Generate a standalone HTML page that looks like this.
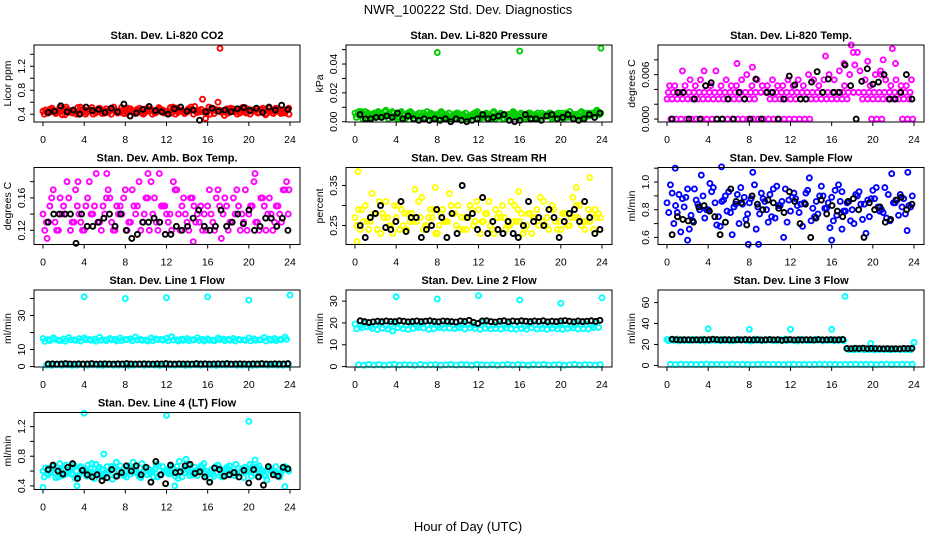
<!DOCTYPE html>
<html><head><meta charset="utf-8">
<style>
html,body{margin:0;padding:0;background:#fff;}
svg{display:block;font-family:"Liberation Sans",Arial,sans-serif;}
</style></head>
<body>
<svg id="chart" width="936" height="540" viewBox="0 0 936 540">
<text x="468" y="14" font-size="13" text-anchor="middle">NWR_100222  Std. Dev. Diagnostics</text>
<text x="468" y="531" font-size="13" text-anchor="middle">Hour of Day (UTC)</text>
</svg>
<script>
// ---------- data ----------
const xTicks = [0,4,8,12,16,20,24];

const co2A = [.45,.42,.47,.44,.49,.43,.46,.41,.48,.45,.44,.50,.42,.46,.47,.43,.45,.49,.41,.46,.44,.48,.43,.47,.45,.42,.50,.46,.44,.48,.43,.65,.45,.47,.60,.44,.42,.49,.46,.44,.48,.45,.43,.47,.50,.44,.46,.42];
const co2B = [.40,.48,.43,.51,.39,.46,.44,.52,.40,.47,.42,.45,.49,.40,.44,.51,.41,.46,.48,.42,.50,.40,.45,.47,.41,.52,.43,.45,.49,.40,.46,.44,.52,.41,.47,.38,.49,.44,.42,.51,.40,.46,.48,.39,.45,.50,.41,.47];
const co2C = [.47,.44,.41,.46,.52,.45,.40,.47,.43,.51,.46,.41,.45,.48,.42,.47,.50,.43,.46,.40,.47,.45,.51,.42,.44,.48,.46,.41,.47,.53,.44,.45,.40,.48,.46,.43,.50,.45,.47,.42,.46,.49,.44,.41,.47,.45,.43,.48];
const co2D = [.43,.50,.45,.39,.48,.42,.51,.44,.46,.40,.49,.47,.43,.52,.45,.41,.48,.44,.50,.43,.46,.42,.49,.45,.51,.40,.47,.43,.52,.44,.48,.41,.50,.45,.43,.49,.46,.40,.51,.43,.47,.42,.50,.45,.41,.48,.44,.50];
const co2OutHours = [17.2,15.8,23.9];
const co2OutVals = [1.5,0.33,0.40];
const co2Black = [.43,.45,.54,.44,.47,.40,.52,.46,.48,.43,.50,.44,.57,.37,.42,.48,.53,.46,.44,.40,.49,.52,.45,.47,.30,.44,.50,.45,.47,.44,.49,.51,.46,.50,.43,.52,.47,.55,.48];

const presA = [.006,.004,.007,.005,.003,.006,.008,.004,.005,.007,.003,.006,.005,.004,.007,.002,.005,.006,.004,.003,.006,.005,.002,.004,.006,.003,.005,.007,.004,.002,.005,.006,.003,.004,.006,.005,.003,.004,.006,.005,.004,.006,.003,.005,.007,.004,.006,.008];
const presB = [.003,.007,.002,.005,.006,.003,.004,.007,.002,.005,.006,.004,.003,.006,.004,.005,.002,.004,.006,.005,.002,.004,.003,.006,.002,.005,.004,.002,.006,.004,.003,.005,.006,.002,.005,.003,.006,.004,.002,.005,.006,.003,.005,.004,.002,.006,.005,.007];
const presC = [.005,.002,.006,.003,.007,.004,.002,.006,.003,.004,.005,.002,.006,.003,.005,.004,.006,.003,.002,.005,.004,.006,.003,.005,.004,.006,.002,.004,.005,.003,.006,.004,.005,.003,.002,.006,.004,.005,.003,.006,.002,.004,.005,.003,.006,.004,.003,.005];
const presD = [.007,.005,.003,.006,.004,.007,.005,.003,.006,.002,.007,.004,.003,.005,.006,.003,.007,.005,.003,.006,.004,.002,.005,.007,.003,.004,.006,.003,.002,.005,.007,.003,.004,.006,.004,.002,.005,.006,.004,.003,.005,.007,.004,.006,.003,.005,.007,.006];
const presOutHours = [8.0,16.0,23.9];
const presOutVals = [0.048,0.049,0.051];
const presBlack = [.005,.002,.002,.003,.003,.004,.003,.006,.002,.004,.002,.001,.002,.001,.002,.001,.002,.000,.002,.001,.000,.001,.002,.005,.002,.003,.004,.005,.001,.000,.001,.005,.002,.002,.001,.004,.005,.002,.003,.005,.002,.001,.002,.005,.003,.006];

const tempA = [.0027,.0027,.0027,.0027,.0027,.0027,.0027,.0027,.0027,.0027,.0027,.0027,.0027,.0027,.0027,.0027,.0027,.0027,null,null,.0027,.0027,.0027,.0027,.0027,.0027,.0027,.0027,.0027,.0027,.0027,.0027,.0027,.0027,.0027,.0027,null,null,.0027,.0027,.0027,.0027,.0027,.0027,.0027,.0027,.0027,.0027];
const tempB = [.0036,.0036,.0036,.0036,.0036,.0036,.0036,.0036,.0036,.0036,.0036,.0036,.0036,.0036,.0036,.0036,.0036,.0036,.0036,.0036,.0036,.0036,.0036,.0036,.0036,.0036,.0036,.0036,.0036,.0036,.0036,.0036,.0036,.0036,.0036,.0036,.0036,.0036,.0036,.0036,.0036,.0036,.0036,.0036,.0036,.0036,.0036,.0036];
const tempC = [.0045,.0045,.0036,.0045,.0053,.0045,.0053,.0045,.0045,.0065,.0045,.0053,.0045,.0045,.0053,.0060,.0045,.0053,.0045,.0045,.0053,.0045,.0045,.0053,.0045,.0053,.0045,.0060,.0053,.0045,.0053,.0060,.0053,.0065,.0045,.0060,.0073,.0065,.0053,.0045,.0060,.0065,.0053,.0045,.0053,.0045,.0045,.0053];
const tempD = [0,0,0,0,0,0,0,0,0,0,0,0,0,0,0,0,0,0,0,0,0,0,0,0,0,0,0,0,null,null,null,null,null,null,null,null,null,null,null,0,0,0,null,null,null,0,0,0];
const tempOutHours = [1.5,3.6,6.8,8.3,15.4,17.2,17.9,18.1,18.5,19.5,21.0,21.9,22.2,20.8];
const tempOutVals = [.0065,.0065,.0075,.0070,.0085,.0075,.0100,.0090,.0090,.0078,.0080,.0095,.0075,.0060];
const tempBlack = [0,.0036,.0036,0,.0027,0,.0045,.0049,0,0,.0027,0,.0036,.0027,0,.0054,0,.0036,.0036,0,.0027,.0058,.0046,.0027,.0027,.0050,.0064,.0036,.0054,.0036,.0036,.0073,.0045,0,.0051,.0068,.0047,.0050,.0060,.0027,.0027,.0036,.0060,.0027];

const ambA = [.14,.13,.17,.12,.15,.16,.13,.14,.12,.18,.15,.13,.14,.16,.12,.15,.17,.13,.14,.12,.16,.18,.13,.15,.14,.12,.17,.15,.13,.16,.14,.12,.15,.13,.17,.14,.12,.16,.15,.13,.14,.18,.12,.15,.16,.13,.14,.17];
const ambB = [.12,.15,.13,.16,.14,.12,.17,.13,.15,.14,.19,.12,.16,.13,.15,.14,.12,.17,.15,.13,.16,.14,.12,.15,.13,.18,.14,.16,.12,.15,.13,.14,.17,.12,.15,.16,.13,.14,.12,.17,.15,.13,.16,.12,.14,.15,.13,.18];
const ambC = [.13,.16,.12,.14,.18,.13,.15,.12,.16,.14,.13,.15,.17,.12,.14,.16,.13,.15,.18,.14,.12,.16,.13,.15,.14,.17,.12,.14,.16,.13,.15,.12,.14,.16,.11,.15,.13,.17,.14,.12,.15,.13,.16,.14,.12,.15,.17,.14];
const ambOutHours = [0.4,3.4,6.2,10.2,11.3,14.6,20.6,23.9];
const ambOutVals = [.11,.18,.19,.19,.19,.106,.19,.17];
const ambBlack = [.13,.14,.14,.14,.14,.104,.14,.125,.125,.13,.135,.14,.125,.14,.12,.11,.115,.13,.13,.135,.13,.115,.115,.125,.12,.125,.135,.145,.125,.12,.125,.145,.125,.13,.14,.128,.145,.12,.125,.135,.135,.125,.135,.12];

const rhA = [.27,.24,.30,.26,.28,.23,.31,.25,.27,.29,.24,.28,.26,.32,.25,.27,.23,.29,.26,.28,.30,.24,.27,.25,.29,.26,.31,.23,.28,.27,.25,.30,.26,.24,.28,.27,.32,.25,.29,.26,.24,.28,.27,.30,.25,.26,.28,.27];
const rhB = [.25,.29,.26,.33,.24,.28,.27,.23,.30,.25,.28,.26,.31,.24,.27,.29,.25,.26,.33,.28,.24,.27,.30,.26,.23,.28,.25,.29,.27,.24,.31,.26,.28,.25,.23,.29,.26,.27,.30,.24,.28,.25,.32,.27,.26,.29,.24,.28];
const rhC = [.29,.26,.24,.28,.31,.27,.25,.30,.24,.28,.26,.34,.27,.25,.29,.23,.28,.26,.30,.25,.27,.24,.29,.31,.26,.28,.24,.27,.30,.25,.26,.29,.23,.28,.27,.25,.31,.24,.29,.26,.28,.25,.27,.30,.24,.26,.29,.27];
const rhOutHours = [0.3,22.8,7.8,21.5,15.9,0.2];
const rhOutVals = [.385,.37,.345,.345,.335,.21];
const rhBlack = [.25,.22,.27,.28,.30,.245,.24,.26,.31,.235,.27,.27,.22,.24,.25,.29,.27,.22,.28,.23,.35,.27,.28,.24,.32,.23,.26,.24,.23,.26,.23,.22,.25,.31,.26,.27,.25,.29,.27,.22,.26,.28,.29,.26,.31,.27,.23,.24];

const flowA = [.85,.92,.78,.88,.95,.72,.84,.90,.80,.96,.75,.87,.93,.82,.70,.89,.85,.98,.77,.86,.91,.74,.83,.95,.79,.88,.84,.92,.72,.86,.97,.81,.89,.76,.93,.85,.80,.90,.73,.87,.94,.82,.78,.91,.85,.76,.88,.83];
const flowB = [.78,.70,.91,.82,.66,.95,.80,.74,.99,.85,.68,.90,.78,.84,.96,.73,.88,.66,.92,.80,.75,.97,.86,.71,.89,.83,.68,.94,.81,.77,.90,.85,.72,.98,.79,.86,.70,.93,.84,.75,.88,.79,.96,.72,.85,.91,.77,.82];
const flowC = [.98,.83,.64,.89,.76,.87,1.05,.80,.93,.69,.86,.79,.62,.91,.84,.77,1.07,.82,.88,.71,.95,.83,.60,.87,.92,.78,.85,1.03,.75,.90,.81,.67,.94,.86,.79,.72,.91,.84,.63,.88,.96,.80,.74,1.06,.87,.82,.65,.90];
const flowOutHours = [0.8,2.0,5.3,7.9,8.9,16.0,17.0,23.4];
const flowOutVals = [1.10,.58,1.11,.55,.55,.58,.66,1.07];
const flowBlack = [.62,.75,.73,.72,.71,.82,.83,.79,.75,.62,.71,.95,.86,.85,.69,.90,.84,.80,.87,.85,.81,.78,.93,.86,.70,.84,.60,.74,.87,.77,.83,.79,.75,.86,.88,.80,.60,.85,.80,.82,.71,.73,.87,.89,.80,.84];

const l1A = [16.5,15.8,16.9,15.5,16.2,17.0,15.7,16.4,16.8,15.9,16.1,17.2,15.6,16.5,16.0,16.7,15.8,16.3,17.4,16.0,15.6,16.8,16.2,15.9,16.6,17.5,15.7,16.1,16.4,15.8,16.9,16.0,16.3,15.5,16.7,16.2,15.9,16.5,16.0,15.7,16.8,16.3,15.6,17.0,16.1,16.4,15.8,17.3];
const l1B = [14.8,15.2,16.0,15.1,14.9,15.6,15.3,15.0,15.8,15.4,14.9,15.5,15.2,15.7,15.0,15.3,15.9,15.1,15.6,15.4,15.0,15.2,15.8,15.5,15.1,15.6,15.0,15.4,15.2,15.7,15.3,15.0,15.5,15.1,15.8,15.2,15.4,15.0,15.6,15.3,15.1,15.5,15.7,15.0,15.4,15.2,15.9,16.0];
const l1Low = [0.8,0.6,1.0,0.7,0.9,0.6,0.8,1.1,0.7,0.9,0.8,0.6,1.0,0.7,0.8,0.9,0.6,0.8,1.0,0.7,0.9,0.8,0.6,1.0,0.8,0.7,0.9,0.6,0.8,1.0,0.7,0.9,0.8,0.6,0.9,0.8,1.0,0.7,0.8,0.9,0.6,0.8,1.0,0.7,0.9,0.8,0.7,0.9];
const l1OutHours = [4,8,12,16,20,24];
const l1OutVals = [41,40,40.5,41,39,42];
const l1Black = [1.5,1.6,1.4,1.5,1.7,1.5,1.4,1.6,1.5,1.5,1.7,1.4,1.5,1.6,1.5,1.4,1.6,1.5,1.7,1.5,1.4,1.5,1.6,1.5,1.4,1.6,1.5,1.7,1.5,1.4,1.6,1.5,1.5,1.4,1.7,1.5,1.6,1.4,1.5,1.6,1.5,1.7,1.4,1.5,1.6,1.5,1.4,1.6,1.5,1.7,1.5,1.4,1.6,1.5,1.5,1.7];

const l2A = [19.5,18.8,19.9,18.5,19.2,20.0,18.7,19.4,19.8,18.9,19.1,20.2,18.6,19.5,19.0,19.7,18.8,19.3,20.4,19.0,18.6,19.8,19.2,18.9,19.6,20.5,18.7,19.1,19.4,18.8,19.9,19.0,19.3,18.5,19.7,19.2,18.9,19.5,19.0,18.7,19.8,19.3,18.6,20.0,19.1,19.4,18.8,20.3];
const l2B = [17.3,17.8,18.2,17.5,16.9,17.6,17.2,16.3,17.8,17.4,17.0,17.5,17.9,17.7,17.1,17.3,17.9,17.6,17.6,17.4,17.8,17.2,17.8,17.5,17.1,17.6,17.3,17.4,17.2,17.7,17.3,17.1,17.5,17.1,17.8,17.2,17.4,17.0,17.6,17.3,17.1,17.5,17.7,17.2,17.4,17.2,17.9,18.0];
const l2Low = [0.8,0.6,1.0,0.7,0.9,0.6,0.8,1.1,0.7,0.9,0.8,0.6,1.0,0.7,0.8,0.9,0.6,0.8,1.0,0.7,0.9,0.8,0.6,1.0,0.8,0.7,0.9,0.6,0.8,1.0,0.7,0.9,0.8,0.6,0.9,0.8,1.0,0.7,0.8,0.9,0.6,0.8,1.0,0.7,0.9,0.8,0.7,0.9];
const l2OutHours = [4,8,12,16,20,24];
const l2OutVals = [32,31,32.5,30.5,29,31.5];
const l2Black = [21.0,20.6,20.2,20.5,20.8,20.6,20.9,20.7,20.6,21.0,20.8,20.5,20.7,20.9,20.6,20.8,21.0,20.7,20.5,20.9,20.8,20.6,20.4,20.9,20.7,21.2,20.3,19.8,20.9,21.0,20.6,20.4,20.8,21.0,20.5,20.9,20.7,21.0,20.8,20.6,20.9,20.7,21.0,20.5,20.8,20.6,20.9,21.1,20.8,20.5,20.9,20.6,20.8,21.0,20.7,21.2];

const l3A = [24.8,24.2,25.1,24.5,24.0,24.9,24.4,25.2,24.1,24.7,24.3,25.0,24.6,24.2,24.9,24.4,24.0,25.1,24.6,24.3,24.8,24.1,24.7,25.2,24.4,24.0,24.9,24.5,24.2,25.0,24.6,24.3,24.8,24.1,24.7,16.0,15.5,16.2,15.7,15.4,16.1,15.6,15.9,15.3,16.0,15.6,15.8,15.5];
const l3B = [23.6,24.0,23.4,23.9,23.5,24.1,23.7,23.3,23.8,24.0,23.5,23.9,23.4,23.7,24.1,23.6,23.3,23.9,23.5,24.0,23.7,23.4,23.8,23.6,24.0,23.3,23.9,23.5,23.7,24.1,23.4,23.8,23.6,23.9,23.5,15.0,14.8,15.2,14.9,15.1,14.7,15.0,15.2,14.8,15.1,14.9,15.0,14.8];
const l3Low = [1.0,0.8,1.2,0.9,1.1,0.8,1.0,1.3,0.9,1.1,1.0,0.8,1.2,0.9,1.0,1.1,0.8,1.0,1.2,0.9,1.1,1.0,0.8,1.2,1.0,0.9,1.1,0.8,1.0,1.2,0.9,1.1,1.0,0.8,1.1,1.0,1.2,0.9,1.0,1.1,0.8,1.0,1.2,0.9,1.1,1.0,0.9,1.1];
const l3OutHours = [4,8,12,16,17.3,19.8,24];
const l3OutVals = [35,34.5,34.5,34.5,66,21,22];
const l3Black = [25.0,24.6,24.4,24.5,24.6,24.3,24.5,24.4,24.6,24.5,25.0,24.7,24.4,24.6,24.5,24.3,24.6,24.4,24.7,24.5,24.4,24.6,24.3,24.5,24.7,24.4,24.6,24.0,24.5,24.7,24.3,24.5,24.4,24.6,24.5,24.3,24.7,24.4,24.5,24.6,24.4,24.5,24.8,16.2,16.0,16.3,16.1,16.5,16.0,16.2,16.1,16.0,15.9,16.1,15.8,16.0,15.9,16.2,16.1,16.3];

const l4A = [.60,.55,.66,.52,.62,.58,.68,.54,.63,.59,.50,.65,.57,.61,.53,.67,.60,.56,.64,.51,.62,.58,.69,.55,.61,.57,.66,.52,.63,.59,.54,.65,.60,.56,.68,.53,.62,.58,.64,.51,.61,.57,.67,.55,.63,.59,.52,.66];
const l4B = [.52,.64,.58,.70,.55,.61,.50,.66,.57,.63,.69,.54,.60,.66,.72,.56,.52,.63,.58,.70,.55,.60,.52,.66,.58,.64,.50,.61,.68,.55,.62,.70,.57,.53,.64,.60,.67,.54,.58,.65,.69,.56,.62,.53,.60,.66,.58,.63];
const l4C = [.64,.58,.51,.62,.68,.56,.60,.65,.53,.70,.58,.62,.66,.49,.61,.57,.64,.72,.55,.59,.63,.52,.67,.60,.56,.62,.73,.58,.54,.65,.61,.57,.50,.66,.60,.63,.55,.69,.58,.62,.53,.65,.59,.48,.63,.57,.61,.64];
const l4D = [.57,.66,.61,.54,.59,.65,.53,.62,.68,.56,.63,.52,.58,.64,.60,.54,.67,.59,.52,.65,.57,.62,.55,.60,.66,.53,.59,.64,.57,.61,.67,.54,.62,.58,.52,.65,.60,.56,.63,.59,.66,.53,.60,.64,.57,.55,.62,.60];
const l4OutHours = [4,12,20,5.9,0,23.5,3.3,12.8,20.6,13.9];
const l4OutVals = [1.38,1.35,1.27,.83,.38,.39,.40,.40,.75,.76];
const l4Black = [.62,.68,.60,.56,.65,.70,.50,.61,.55,.52,.55,.47,.51,.62,.53,.58,.67,.60,.67,.55,.65,.45,.73,.55,.43,.68,.58,.59,.67,.69,.57,.59,.52,.45,.64,.62,.53,.55,.58,.52,.61,.44,.62,.52,.41,.66,.55,.53,.65,.63];

// ---------- panel definitions ----------
const panels = [
 {id:'li820-co2',title:'Stan. Dev. Li-820 CO2',ylab:'Licor ppm',ylim:[0.27,1.555],ticks:[0.4,0.6,0.8,1.0,1.2,1.4],labels:{0.4:'0.4',0.8:'0.8',1.2:'1.2'},color:'#ff0000',series:[co2A,co2B,co2C,co2D],outH:co2OutHours,outV:co2OutVals,black:co2Black},
 {id:'li820-pressure',title:'Stan. Dev. Li-820 Pressure',ylab:'kPa',ylim:[-0.0002,0.0532],ticks:[0,0.01,0.02,0.03,0.04,0.05],labels:{0:'0.00',0.02:'0.02',0.04:'0.04'},color:'#00cd00',series:[presA,presB,presC,presD],outH:presOutHours,outV:presOutVals,black:presBlack},
 {id:'li820-temp',title:'Stan. Dev. Li-820 Temp.',ylab:'degrees C',ylim:[-0.0004,0.0100],ticks:[0,0.002,0.004,0.006,0.008],labels:{0:'0.000',0.006:'0.006'},color:'#ff00ff',series:[tempA,tempB,tempC,tempD],outH:tempOutHours,outV:tempOutVals,black:tempBlack},
 {id:'amb-box-temp',title:'Stan. Dev. Amb. Box Temp.',ylab:'degrees C',ylim:[0.1025,0.1975],ticks:[0.12,0.14,0.16,0.18],labels:{0.12:'0.12',0.16:'0.16'},color:'#ff00ff',series:[ambA,ambB,ambC],outH:ambOutHours,outV:ambOutVals,black:ambBlack},
 {id:'gas-stream-rh',title:'Stan. Dev. Gas Stream RH',ylab:'percent',ylim:[0.2025,0.395],ticks:[0.25,0.30,0.35],labels:{0.25:'0.25',0.35:'0.35'},color:'#ffff00',series:[rhA,rhB,rhC],outH:rhOutHours,outV:rhOutVals,black:rhBlack},
 {id:'sample-flow',title:'Stan. Dev. Sample Flow',ylab:'ml/min',ylim:[0.549,1.105],ticks:[0.6,0.7,0.8,0.9,1.0,1.1],labels:{0.6:'0.6',0.8:'0.8',1:'1.0'},color:'#0000ff',series:[flowA,flowB,flowC],outH:flowOutHours,outV:flowOutVals,black:flowBlack},
 {id:'line1-flow',title:'Stan. Dev. Line 1 Flow',ylab:'ml/min',ylim:[-0.3,45],ticks:[0,10,20,30,40],labels:{0:'0',10:'10',30:'30'},color:'#00ffff',series:[l1A,l1B,l1Low],outH:l1OutHours,outV:l1OutVals,black:l1Black},
 {id:'line2-flow',title:'Stan. Dev. Line 2 Flow',ylab:'ml/min',ylim:[-0.2,35.1],ticks:[0,10,20,30],labels:{0:'0',10:'10',20:'20',30:'30'},color:'#00ffff',series:[l2A,l2B,l2Low],outH:l2OutHours,outV:l2OutVals,black:l2Black},
 {id:'line3-flow',title:'Stan. Dev. Line 3 Flow',ylab:'ml/min',ylim:[-1.5,72],ticks:[0,20,40,60],labels:{0:'0',20:'20',40:'40',60:'60'},color:'#00ffff',series:[l3A,l3B,l3Low],outH:l3OutHours,outV:l3OutVals,black:l3Black},
 {id:'line4-flow',title:'Stan. Dev. Line 4 (LT) Flow',ylab:'ml/min',ylim:[0.351,1.39],ticks:[0.4,0.6,0.8,1.0,1.2],labels:{0.4:'0.4',0.8:'0.8',1.2:'1.2'},color:'#00ffff',series:[l4A,l4B,l4C,l4D],outH:l4OutHours,outV:l4OutVals,black:l4Black}
];

// ---------- drawing ----------
const NS='http://www.w3.org/2000/svg';
const svg=document.getElementById('chart');
function mk(tag,attrs,parent){const e=document.createElementNS(NS,tag);for(const k in attrs)e.setAttribute(k,attrs[k]);(parent||svg).appendChild(e);return e;}
const colLeft=[34,346,658], rowTop=[45,167.5,290,412.5], W=266, H=77;

panels.forEach((p,idx)=>{
  const L=colLeft[idx%3], T=rowTop[Math.floor(idx/3)], B=T+H;
  const g=mk('g',{});
  
  
  const xs=h=>L+9+h*247/24;
  const ys=v=>B-(v-p.ylim[0])/(p.ylim[1]-p.ylim[0])*H;
  const title=mk('text',{x:L+W/2,y:T-6,'font-size':11,'font-weight':'bold','text-anchor':'middle'},g);
  title.textContent=p.title;
  
  
  const yl=mk('text',{transform:`translate(${L-23},${T+H/2}) rotate(-90)`,'font-size':10.5,'text-anchor':'middle'},g);
  yl.textContent=p.ylab;
  
  
  const pts=mk('g',{fill:'none','stroke-width':1.9},g);
  
  
  const K=p.series.length;
  p.series.forEach((arr,k)=>{
    const n=arr.length;
    arr.forEach((v,i)=>{
      if(v===null)return;
      const h=(i+k/K)*24/n;
      const c=mk('circle',{cx:xs(h),cy:ys(v),r:2.5,stroke:p.color},pts);
      
      
    });
  });
  p.outH.forEach((h,i)=>{
    const c=mk('circle',{cx:xs(h),cy:ys(p.outV[i]),r:2.5,stroke:p.color},pts);
    
    
  });
  const nb=p.black.length;
  p.black.forEach((v,i)=>{
    const h=0.5+i*(23.3/(nb-1));
    const c=mk('circle',{cx:xs(h),cy:ys(v),r:2.5,stroke:'#000'},pts);
    
    
  });
  const box=mk('rect',{x:L,y:T,width:W,height:H,fill:'none',stroke:'#000','stroke-width':1},g);
  
  
  const xa=mk('g',{},g);
  
  
  mk('line',{x1:xs(0),x2:xs(24),y1:B,y2:B,stroke:'#000'},xa);
  xTicks.forEach(t=>{
    mk('line',{x1:xs(t),x2:xs(t),y1:B,y2:B+4,stroke:'#000'},xa);
    const tx=mk('text',{x:xs(t),y:B+21,'font-size':10.5,'text-anchor':'middle'},xa);
    tx.textContent=String(t);
    
    
  });
  const ya=mk('g',{},g);
  
  
  p.ticks.forEach(t=>{
    const y=ys(t);
    mk('line',{x1:L-4,x2:L,y1:y,y2:y,stroke:'#000'},ya);
    const key=Object.keys(p.labels).find(k=>Math.abs(parseFloat(k)-t)<1e-9);
    if(key!==undefined){
      const tx=mk('text',{transform:`translate(${L-9},${y}) rotate(-90)`,'font-size':10.5,'text-anchor':'middle'},ya);
      tx.textContent=p.labels[key];
      
      
    }
  });
});
</script>
</body></html>
